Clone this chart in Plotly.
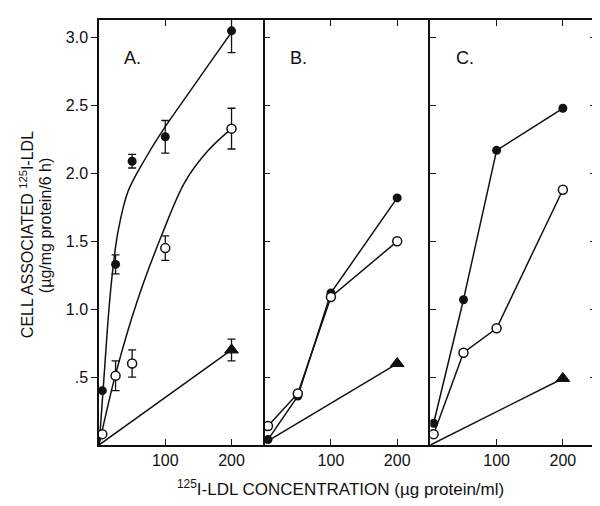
import plotly.graph_objects as go

# concentrations (ug protein/ml)
conc_a = [5, 25, 50, 100, 200]
conc_bc = [5, 50, 100, 200]

# panel A measured points
a_filled = [0.40, 1.33, 2.09, 2.27, 3.05]
a_filled_err = [0, 0.07, 0.05, 0.12, 0.16]
a_open = [0.08, 0.51, 0.60, 1.45, 2.33]
a_open_err = [0, 0.11, 0.10, 0.09, 0.15]
a_tri_line_x = [0, 200]
a_tri_line = [0, 0.70]
a_tri_x = [200]
a_tri = [0.70]
a_tri_err = [0.08]

# panel A hand-drawn curves
curve_filled_x = [0, 2, 9, 15, 21, 29, 44, 70, 98, 138, 174, 200]
curve_filled_y = [0, 0.12, 0.6, 1.0, 1.3, 1.58, 1.87, 2.11, 2.33, 2.61, 2.86, 3.04]
curve_open_x = [0, 25, 57, 95, 130, 165, 200]
curve_open_y = [0, 0.52, 1.05, 1.55, 1.94, 2.17, 2.33]

# panel B
b_filled = [0.04, 0.36, 1.12, 1.82]
b_open = [0.14, 0.38, 1.09, 1.50]
b_tri_x = [5, 200]
b_tri = [0.03, 0.60]

# panel C
c_filled = [0.16, 1.07, 2.17, 2.48]
c_open = [0.08, 0.68, 0.86, 1.88]
c_tri_x = [0, 200]
c_tri = [0, 0.49]

panel_labels = ["A.", "B.", "C."]
ytick_vals = [0.5, 1.0, 1.5, 2.0, 2.5, 3.0]
ytick_text = [".5", "1.0", "1.5", "2.0", "2.5", "3.0"]

FONT = "Liberation Sans, Arial, sans-serif"
INK = "#111111"
filled_marker = dict(symbol="circle", size=9, color=INK)
open_marker = dict(symbol="circle", size=9, color="white", line=dict(color=INK, width=1.5))
tri_marker = dict(symbol="triangle-up", size=12, color=INK, line=dict(color=INK, width=1))
line_style = dict(color=INK, width=1.5)


def err(arr):
    return dict(type="data", array=arr, color=INK, thickness=1.3, width=4)


fig = go.Figure()

# ---- panel A
fig.add_trace(go.Scatter(x=curve_filled_x, y=curve_filled_y, mode="lines",
                         line=dict(shape="spline", **line_style), xaxis="x", yaxis="y"))
fig.add_trace(go.Scatter(x=curve_open_x, y=curve_open_y, mode="lines",
                         line=dict(shape="spline", **line_style), xaxis="x", yaxis="y"))
fig.add_trace(go.Scatter(x=a_tri_line_x, y=a_tri_line, mode="lines", line=line_style,
                         xaxis="x", yaxis="y"))
fig.add_trace(go.Scatter(x=a_tri_x, y=a_tri, mode="markers", marker=tri_marker,
                         error_y=err(a_tri_err), xaxis="x", yaxis="y"))
fig.add_trace(go.Scatter(x=conc_a, y=a_open, mode="markers", marker=open_marker,
                         error_y=err(a_open_err), xaxis="x", yaxis="y"))
fig.add_trace(go.Scatter(x=conc_a, y=a_filled, mode="markers", marker=filled_marker,
                         error_y=err(a_filled_err), xaxis="x", yaxis="y"))

# ---- panels B and C
for ax, filled, opn, tx, ty in [("2", b_filled, b_open, b_tri_x, b_tri),
                                ("3", c_filled, c_open, c_tri_x, c_tri)]:
    fig.add_trace(go.Scatter(x=tx, y=ty, mode="lines", line=line_style,
                             xaxis="x" + ax, yaxis="y" + ax))
    fig.add_trace(go.Scatter(x=tx[-1:], y=ty[-1:], mode="markers", marker=tri_marker,
                             xaxis="x" + ax, yaxis="y" + ax))
    fig.add_trace(go.Scatter(x=conc_bc, y=filled, mode="lines+markers", line=line_style,
                             marker=filled_marker, xaxis="x" + ax, yaxis="y" + ax))
    fig.add_trace(go.Scatter(x=conc_bc, y=opn, mode="lines+markers", line=line_style,
                             marker=open_marker, xaxis="x" + ax, yaxis="y" + ax))

xaxis_common = dict(range=[0, 250], tickvals=[100, 200], ticks="inside", ticklen=6,
                    tickcolor=INK, tickwidth=1.3, showline=True, linecolor=INK,
                    linewidth=1.5, mirror="ticks", showgrid=False, zeroline=False,
                    tickfont=dict(family=FONT, size=16, color=INK))
yaxis_common = dict(range=[0, 3.13], tickvals=ytick_vals, ticktext=ytick_text, ticklen=6,
                    tickcolor=INK, tickwidth=1.3, showline=True, linecolor=INK,
                    linewidth=1.5, showgrid=False, zeroline=False,
                    tickfont=dict(family=FONT, size=16, color=INK))

fig.update_layout(
    width=600, height=506,
    margin=dict(l=91, r=11, t=10, b=69),
    paper_bgcolor="white", plot_bgcolor="white",
    showlegend=False,
    xaxis=dict(xaxis_common, domain=[0, 1 / 3], anchor="y"),
    xaxis2=dict(xaxis_common, domain=[1 / 3, 2 / 3], anchor="y2"),
    xaxis3=dict(xaxis_common, domain=[2 / 3, 1], anchor="y3"),
    yaxis=dict(yaxis_common, ticks="outside", anchor="x"),
    yaxis2=dict(yaxis_common, ticks="inside", showticklabels=False, anchor="x2"),
    yaxis3=dict(yaxis_common, ticks="inside", mirror="ticks", showticklabels=False, anchor="x3"),
)

for i, lab in enumerate(panel_labels):
    sfx = "" if i == 0 else str(i + 1)
    fig.add_annotation(x=35, y=2.85, xref="x" + sfx, yref="y" + sfx, text=lab,
                       showarrow=False, xanchor="left",
                       font=dict(family=FONT, size=18, color=INK))

# axis titles
fig.add_annotation(x=-0.145, y=0.496, xref="paper", yref="paper", textangle=-90,
                   xanchor="center", yanchor="middle",
                   text="CELL ASSOCIATED <sup>125</sup>I-LDL", showarrow=False,
                   font=dict(family=FONT, size=16, color=INK))
fig.add_annotation(x=-0.106, y=0.518, xref="paper", yref="paper", textangle=-90,
                   xanchor="center", yanchor="middle",
                   text="(µg/mg protein/6 h)", showarrow=False,
                   font=dict(family=FONT, size=16, color=INK))
fig.add_annotation(x=0.486, y=-0.1, xref="paper", yref="paper",
                   xanchor="center", yanchor="middle",
                   text="<sup>125</sup>I-LDL CONCENTRATION (µg protein/ml)", showarrow=False,
                   font=dict(family=FONT, size=17, color=INK))

fig.write_html("out.html")
